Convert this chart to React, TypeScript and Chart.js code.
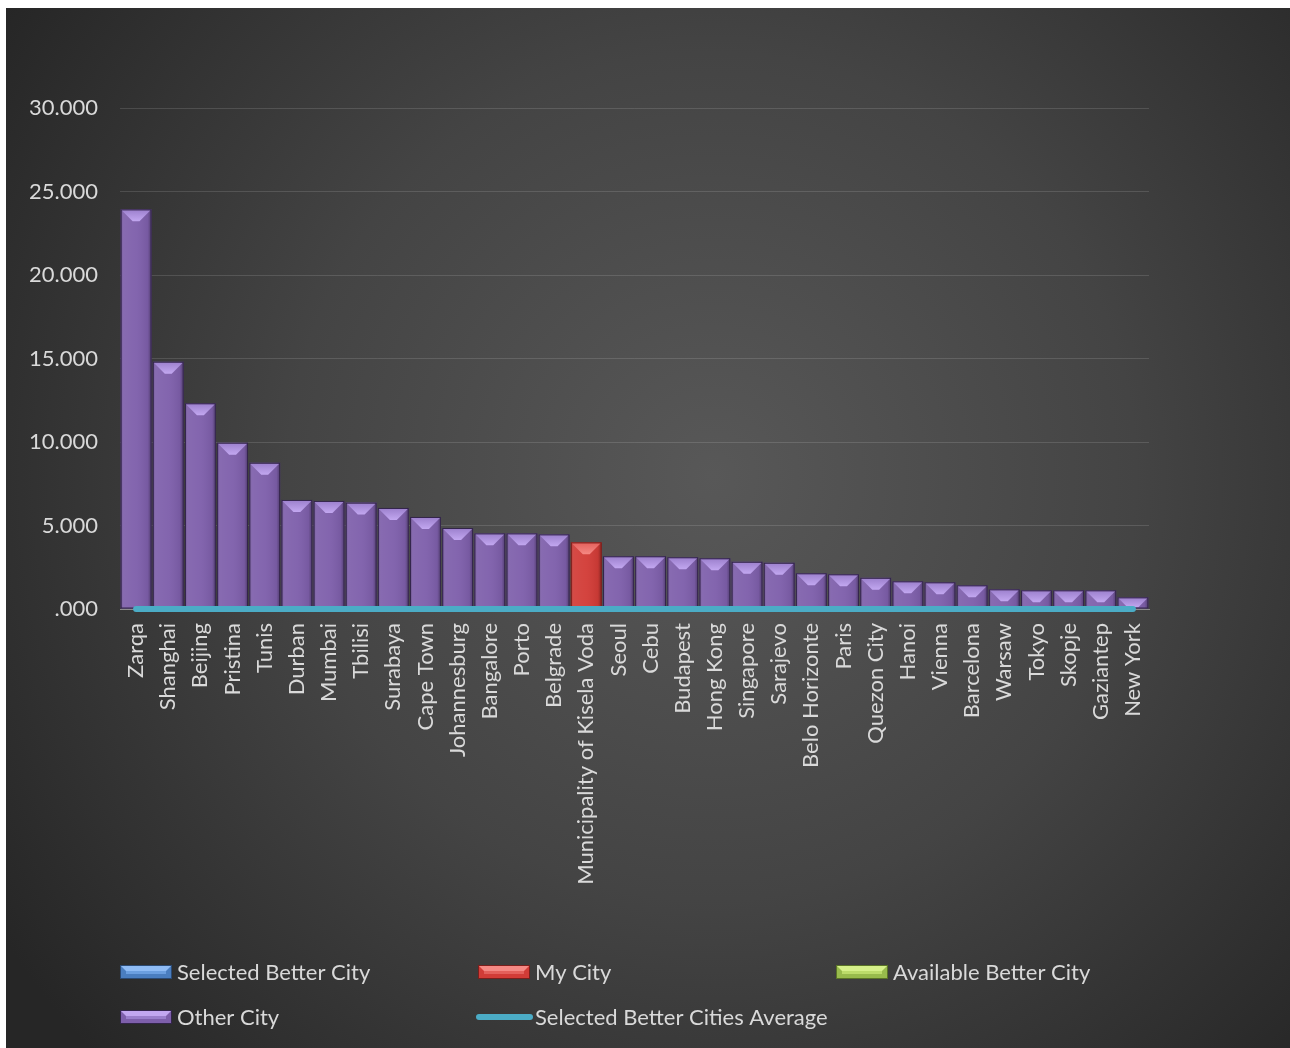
import React, { useEffect, useRef } from "react";
import { Chart, registerables } from "chart.js";

Chart.register(...registerables);

// City scores, sorted from highest to lowest
const cities = [
  "Zarqa", "Shanghai", "Beijing", "Pristina", "Tunis", "Durban", "Mumbai", "Tbilisi",
  "Surabaya", "Cape Town", "Johannesburg", "Bangalore", "Porto", "Belgrade",
  "Municipality of Kisela Voda", "Seoul", "Cebu", "Budapest", "Hong Kong", "Singapore",
  "Sarajevo", "Belo Horizonte", "Paris", "Quezon City", "Hanoi", "Vienna", "Barcelona",
  "Warsaw", "Tokyo", "Skopje", "Gaziantep", "New York",
];
const cityValues = [
  23.93, 14.81, 12.32, 9.96, 8.76, 6.53, 6.47, 6.37,
  6.05, 5.51, 4.85, 4.53, 4.53, 4.47,
  3.99, 3.16, 3.16, 3.10, 3.04, 2.83,
  2.77, 2.14, 2.08, 1.87, 1.66, 1.60, 1.42,
  1.18, 1.12, 1.12, 1.12, 0.70,
];
const myCity = "Municipality of Kisela Voda";
const selectedBetterCities: string[] = [];
const availableBetterCities: string[] = [];
const selectedBetterCitiesAverage = 0;

const yMin = 0;
const yMax = 30;
const yStep = 5;

const FONT = "Lato";
const TEXT = "#d9d9d9";

type Palette = { body: string; edge: string; top0: string; top1: string };
const palettes: Record<string, Palette> = {
  "Selected Better City": { body: "#4a7ec0", edge: "#2b4a73", top0: "#6b9fe0", top1: "#8fbcf5" },
  "My City": { body: "#d23c37", edge: "#7a1f1c", top0: "#e4605b", top1: "#f58984" },
  "Available Better City": { body: "#98bb4c", edge: "#5a7327", top0: "#bcdc6a", top1: "#d6f08a" },
  "Other City": { body: "#7e5fab", edge: "#33254a", top0: "#9b7fcc", top1: "#c2a7f0" },
};
const averageColor = "#4bacc6";

const seriesFor = (pick: (city: string) => boolean) =>
  cities.map((c, i) => (pick(c) ? cityValues[i] : null));

const isOther = (c: string) =>
  c !== myCity && !selectedBetterCities.includes(c) && !availableBetterCities.includes(c);

const radialBackground = {
  id: "radialBackground",
  beforeDraw(chart: any) {
    const { ctx, width, height } = chart;
    const cx = width * 0.55;
    const cy = height * 0.45;
    const g = ctx.createRadialGradient(cx, cy, 0, cx, cy, Math.hypot(cx, cy));
    g.addColorStop(0, "#585858");
    g.addColorStop(0.5, "#444444");
    g.addColorStop(1, "#262626");
    ctx.save();
    ctx.fillStyle = g;
    ctx.fillRect(0, 0, width, height);
    ctx.restore();
  },
};

// Bevelled faces on every bar, drawn right after its dataset
const bevelBars = {
  id: "bevelBars",
  afterDatasetDraw(chart: any, args: any) {
    const meta = args.meta;
    if (meta.type !== "bar") return;
    const ds = chart.data.datasets[args.index];
    const pal = palettes[ds.label];
    const ctx = chart.ctx;
    ctx.save();
    meta.data.forEach((el: any, i: number) => {
      if (ds.data[i] == null) return;
      const { x, y, base, width } = el.getProps(["x", "y", "base", "width"], true);
      const l = x - width / 2;
      const r = x + width / 2;
      const t = Math.min(y, base);
      const b = Math.max(y, base);
      const h = b - t;
      if (h <= 0) return;
      const sg = ctx.createLinearGradient(l, 0, r, 0);
      sg.addColorStop(0, "rgba(0,0,0,0.25)");
      sg.addColorStop(0.1, "rgba(255,255,255,0.07)");
      sg.addColorStop(0.5, "rgba(255,255,255,0.04)");
      sg.addColorStop(0.88, "rgba(0,0,0,0.06)");
      sg.addColorStop(1, "rgba(0,0,0,0.35)");
      ctx.fillStyle = sg;
      ctx.fillRect(l, t, width, h);
      const d = Math.max(0, Math.min(11, h * 0.8, width / 2 - 2));
      ctx.beginPath();
      ctx.moveTo(l + 1, t + 1);
      ctx.lineTo(r - 1, t + 1);
      ctx.lineTo(r - 1 - d, t + 1 + d);
      ctx.lineTo(l + 1 + d, t + 1 + d);
      ctx.closePath();
      const tg = ctx.createLinearGradient(0, t, 0, t + d + 1);
      tg.addColorStop(0, pal.top0);
      tg.addColorStop(1, pal.top1);
      ctx.fillStyle = tg;
      ctx.fill();
      ctx.strokeStyle = pal.edge;
      ctx.lineWidth = 1;
      ctx.strokeRect(l + 0.5, t + 0.5, width - 1, h - 1);
    });
    ctx.restore();
  },
};

// Two-row legend under the plot
const gridLegend = {
  id: "gridLegend",
  afterDraw(chart: any) {
    const ctx = chart.ctx;
    const cols = [114, 472, 830];
    const rows = [964, 1009];
    ctx.save();
    chart.data.datasets.forEach((ds: any, k: number) => {
      const x = cols[k % 3];
      const yc = rows[Math.floor(k / 3)];
      if (ds.type === "line") {
        ctx.strokeStyle = averageColor;
        ctx.lineWidth = 6;
        ctx.lineCap = "round";
        ctx.beginPath();
        ctx.moveTo(x - 2 + 3, yc);
        ctx.lineTo(x + 55 - 3, yc);
        ctx.stroke();
      } else {
        const pal = palettes[ds.label];
        const w = 52;
        const h = 14;
        const t = yc - h / 2;
        ctx.fillStyle = pal.body;
        ctx.fillRect(x, t, w, h);
        ctx.beginPath();
        ctx.moveTo(x + 1, t + 1);
        ctx.lineTo(x + w - 1, t + 1);
        ctx.lineTo(x + w - 6, t + 6);
        ctx.lineTo(x + 6, t + 6);
        ctx.closePath();
        ctx.fillStyle = pal.top1;
        ctx.fill();
        ctx.fillStyle = pal.top0;
        ctx.fillRect(x + 6, t + 6, w - 12, 3);
        ctx.strokeStyle = pal.edge;
        ctx.lineWidth = 1;
        ctx.strokeRect(x + 0.5, t + 0.5, w - 1, h - 1);
      }
      ctx.fillStyle = TEXT;
      ctx.font = `22px ${FONT}`;
      ctx.textBaseline = "middle";
      ctx.textAlign = "left";
      ctx.fillText(ds.label, x + 57, yc + 1);
    });
    ctx.restore();
  },
};

export default function App() {
  const canvasRef = useRef<HTMLCanvasElement | null>(null);

  useEffect(() => {
    const canvas = canvasRef.current;
    if (!canvas) return;
    const barCommon = {
      type: "bar" as const,
      barPercentage: 0.96,
      categoryPercentage: 1,
      borderWidth: 0,
    };
    const chart = new Chart(canvas, {
      type: "bar",
      data: {
        labels: cities,
        datasets: [
          {
            ...barCommon,
            label: "Selected Better City",
            data: seriesFor((c) => selectedBetterCities.includes(c)),
            backgroundColor: palettes["Selected Better City"].body,
          },
          {
            ...barCommon,
            label: "My City",
            data: seriesFor((c) => c === myCity),
            backgroundColor: palettes["My City"].body,
          },
          {
            ...barCommon,
            label: "Available Better City",
            data: seriesFor((c) => availableBetterCities.includes(c)),
            backgroundColor: palettes["Available Better City"].body,
          },
          {
            ...barCommon,
            label: "Other City",
            data: seriesFor(isOther),
            backgroundColor: palettes["Other City"].body,
          },
          {
            type: "line" as const,
            label: "Selected Better Cities Average",
            data: cities.map(() => selectedBetterCitiesAverage),
            borderColor: averageColor,
            borderWidth: 6,
            borderCapStyle: "round",
            pointRadius: 0,
            fill: false,
            clip: false as any,
            order: -1,
          } as any,
        ],
      },
      options: {
        responsive: false,
        animation: false,
        devicePixelRatio: 1,
        layout: { padding: { top: 100, right: 141, bottom: 0, left: 0 } },
        plugins: {
          legend: { display: false },
          tooltip: { enabled: false },
        },
        scales: {
          x: {
            stacked: true,
            grid: { display: false, drawTicks: false },
            border: { display: true, color: "#8c8c8c", width: 1 },
            ticks: {
              autoSkip: false,
              maxRotation: 90,
              minRotation: 90,
              padding: 14,
              color: TEXT,
              font: { family: FONT, size: 22 },
            },
            afterFit(scale: any) {
              scale.height = 439;
            },
          },
          y: {
            stacked: true,
            min: yMin,
            max: yMax,
            grid: { color: "rgba(255,255,255,0.13)", lineWidth: 1, drawTicks: false },
            border: { display: false },
            ticks: {
              stepSize: yStep,
              padding: 22,
              color: TEXT,
              font: { family: FONT, size: 22 },
              callback: (v: any) => (Number(v) === 0 ? ".000" : Number(v).toFixed(3)),
            },
            afterFit(scale: any) {
              scale.width = 114;
            },
          },
        },
      },
      plugins: [radialBackground, bevelBars, gridLegend],
    });
    return () => chart.destroy();
  }, []);

  return (
    <div style={{ position: "absolute", left: 6, top: 8, width: 1284, height: 1040 }}>
      <canvas ref={canvasRef} width={1284} height={1040} style={{ display: "block" }} />
    </div>
  );
}
